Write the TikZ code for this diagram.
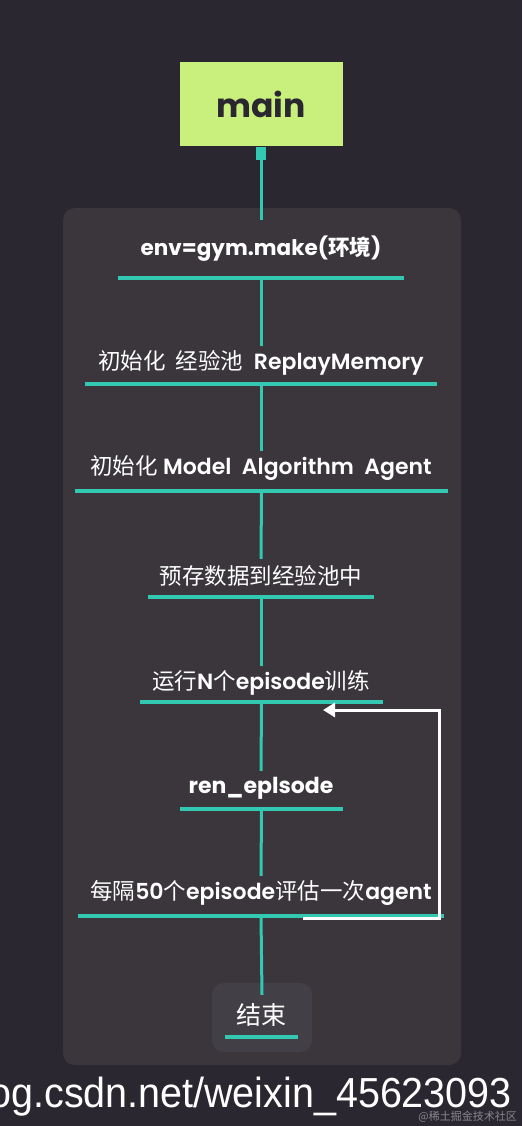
\documentclass[tikz,border=0pt]{standalone}
\usepackage{fontspec}
\setmainfont{Poppins}
\newfontfamily\popsemi{Poppins SemiBold}
\newfontfamily\cjkf{Noto Sans CJK SC}
\newcommand{\cjk}{\cjkf\mdseries\fontsize{22.5}{26}\selectfont}
\newfontfamily\arialf[FakeStretch=0.94]{Liberation Sans}
\usetikzlibrary{arrows.meta,calc}
\definecolor{bgc}{HTML}{2B2731}
\definecolor{panelc}{HTML}{3A363C}
\definecolor{endc}{HTML}{433F47}
\definecolor{mainc}{HTML}{C9F07C}
\definecolor{tealc}{HTML}{32C8B2}
\definecolor{wmc}{HTML}{8A8690}
\tikzset{
  steptext/.style={text=white, font=\popsemi\fontsize{22}{26}\selectfont, inner sep=0pt, minimum height=34pt},
  uline/.style={fill=tealc, inner sep=0pt, minimum height=3.5pt},
  conn/.style={draw=tealc, line width=3pt},
  fbarrow/.style={draw=white, line width=3pt, -{Triangle[length=12pt,width=14pt]}},
}
\begin{document}
\begin{tikzpicture}[x=1pt,y=-1pt]
\fill[bgc] (0,0) rectangle (522,1126);
\useasboundingbox (0,0) rectangle (522,1126);
\node[fill=panelc, rounded corners=12pt, minimum width=398pt, minimum height=857pt, inner sep=0pt] (panel) at (262,636.5) {};
% main
\node[fill=mainc, minimum width=163pt, minimum height=84pt, inner sep=0pt, text=bgc, font=\fontsize{33}{38}\selectfont\bfseries] (main) at (261,104.5) {main};
\node[fill=tealc, minimum width=10pt, minimum height=13pt, inner sep=0pt] (stub) at (261,153.5) {};
% steps
\node[steptext, minimum height=58pt, font=\rmfamily\fontsize{21.5}{26}\selectfont\bfseries] (t1) at (261,249) {env=gym.make({\cjkf\bfseries 环境})};
\node[uline, minimum width=286pt] (u1) at (261,278) {};
\node[steptext] (t2) at (261,363) {{\cjk 初始化\ \ 经验池}\ \ ReplayMemory};
\node[uline, minimum width=352pt] (u2) at (261,384) {};
\node[steptext] (t3) at (261,468) {{\cjk 初始化} Model\ \ Algorithm\ \ Agent};
\node[uline, minimum width=373pt] (u3) at (261.5,491) {};
\node[steptext] (t4) at (261,576) {{\cjk 预存数据到经验池中}};
\node[uline, minimum width=226pt] (u4) at (261,597) {};
\node[steptext] (t5) at (261,683) {{\cjk 运行}N{\cjk 个}episode{\cjk 训练}};
\node[uline, minimum width=243pt] (u5) at (261.5,702) {};
\node[steptext, font=\rmfamily\fontsize{22}{26}\selectfont\bfseries] (t6) at (261,788) {ren\_eplsode};
\node[uline, minimum width=163pt] (u6) at (261.5,809) {};
\node[steptext] (t7) at (261,893) {{\cjk 每隔}50{\cjk 个}episode{\cjk 评估一次}agent};
\node[uline, minimum width=366pt] (u7) at (261,916) {};
\node[fill=endc, rounded corners=12pt, minimum width=100pt, minimum height=69pt, inner sep=0pt] (endbox) at (262,1017.5) {};
\node[steptext] (t8) at (261,1015) {{\cjkf\mdseries\fontsize{25}{28}\selectfont 结束}};
\node[uline, minimum width=73pt] (u8) at (261.5,1037) {};
% connectors
\draw[conn] (stub.south) -- (t1.north);
\draw[conn] (u1.center) -- (t2.north);
\draw[conn] (u2.center) -- (t3.north);
\draw[conn] (u3.center) -- (t4.north);
\draw[conn] (u4.center) -- (t5.north);
\draw[conn] (u5.center) -- (t6.north);
\draw[conn] (u6.center) -- (t7.north);
\draw[conn] (u7.center) -- ([yshift=-12pt]endbox.north);
% feedback
\coordinate (fa) at (303,918);
\coordinate (fb) at (323,710);
\draw[fbarrow] (fa) -- ++(136,0) |- (fb);
% footer
\node[anchor=base east, inner sep=0pt, text=white, font=\arialf\fontsize{42}{48}\selectfont] (url) at (512,1107) {og.csdn.net/weixin\_45623093};
\node[anchor=base east, inner sep=0pt, text=wmc, font=\cjkf\fontsize{11}{13}\selectfont] (wm) at (517,1120) {@稀土掘金技术社区};
\end{tikzpicture}
\end{document}
